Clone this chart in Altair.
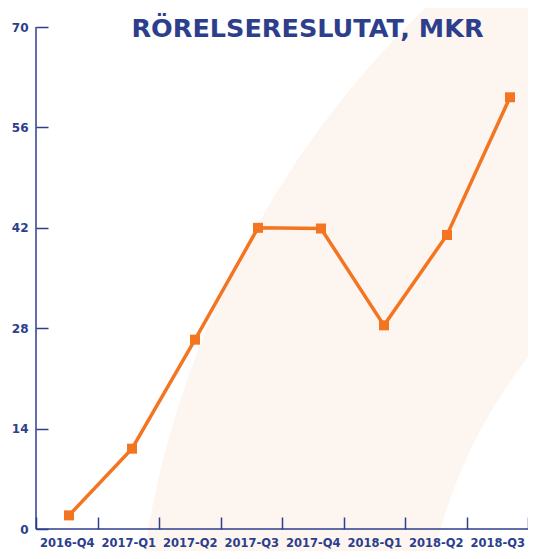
import altair as alt
import pandas as pd

# ---- data ----
quarters = ["2016-Q4", "2017-Q1", "2017-Q2", "2017-Q3",
            "2017-Q4", "2018-Q1", "2018-Q2", "2018-Q3"]
values = [1.9, 11.2, 26.4, 42.0, 41.9, 28.4, 41.0, 60.2]
y_ticks = [0, 14, 28, 42, 56, 70]
title_text = ["RÖRELSERESLUTAT, MKR"]

# ---- style ----
BLUE = "#2c3e8c"
ORANGE = "#f47521"
PEACH = "#fdf5ef"
FONT = "DejaVu Sans"
W, H = 492, 502

df = pd.DataFrame({"quarter": quarters,
                   "idx": list(range(len(quarters))),
                   "value": values})
one = pd.DataFrame({"k": [0]})

# decorative background crescent (outer peach disk, inner white disk)
outer = alt.Chart(one).mark_arc(color=PEACH, theta=0, theta2=6.2832, radius=955).encode(
    x=alt.value(1052.7), y=alt.value(667.9))
inner = alt.Chart(one).mark_arc(color="white", theta=0, theta2=6.2832, radius=503).encode(
    x=alt.value(888.6), y=alt.value(639.4))

# category axis (band scale, ticks at band edges, inward via offset)
axis_layer = alt.Chart(df).mark_tick(opacity=0).encode(
    x=alt.X("quarter:N", sort=quarters,
            scale=alt.Scale(type="band", paddingInner=0, paddingOuter=0, align=0),
            axis=alt.Axis(orient="bottom", offset=-12, tickSize=12, tickBand="extent",
                          domain=False, grid=False, labelAngle=0, labelPadding=8,
                          labelFont=FONT, labelFontSize=11.5, labelFontWeight="bold",
                          labelColor=BLUE, tickColor=BLUE, tickWidth=1.5, title=None,
                          zindex=2))
)

line = alt.Chart(df).mark_line(
    color=ORANGE, strokeWidth=3.5,
    point=alt.OverlayMarkDef(shape="square", size=100, filled=True, color=ORANGE, opacity=1)
).encode(
    x=alt.X("idx:Q", scale=alt.Scale(domain=[-0.524, 7.286], nice=False, zero=False), axis=None),
    y=alt.Y("value:Q", scale=alt.Scale(domain=[0, 70], nice=False),
            axis=alt.Axis(values=y_ticks, offset=-12, tickSize=12, domain=False, grid=False,
                          labelPadding=8, labelFont=FONT, labelFontSize=12,
                          labelFontWeight="bold", labelColor=BLUE, tickColor=BLUE,
                          tickWidth=1.5, title=None, zindex=2)),
)

yline = alt.Chart(one).mark_rule(color=BLUE, strokeWidth=1.5).encode(
    x=alt.value(0), y=alt.value(0), y2=alt.value(H))
xline = alt.Chart(one).mark_rule(color=BLUE, strokeWidth=1.5).encode(
    x=alt.value(0), x2=alt.value(W), y=alt.value(H))

title = alt.Chart(pd.DataFrame({"t": title_text})).mark_text(
    font=FONT, fontSize=25.5, fontWeight="bold", color=BLUE,
    align="center", baseline="alphabetic"
).encode(text="t:N", x=alt.value(271.5), y=alt.value(10))

chart = alt.layer(outer, inner, axis_layer, line, yline, xline, title).resolve_scale(
    x="independent"
).properties(
    width=W, height=H,
    padding={"left": 28, "top": 19, "right": 0, "bottom": 22},
    autosize=alt.AutoSizeParams(type="none"),
    background="white",
).configure_view(stroke=None)

chart.save("out.html", embed_options={"renderer": "svg", "actions": False})
